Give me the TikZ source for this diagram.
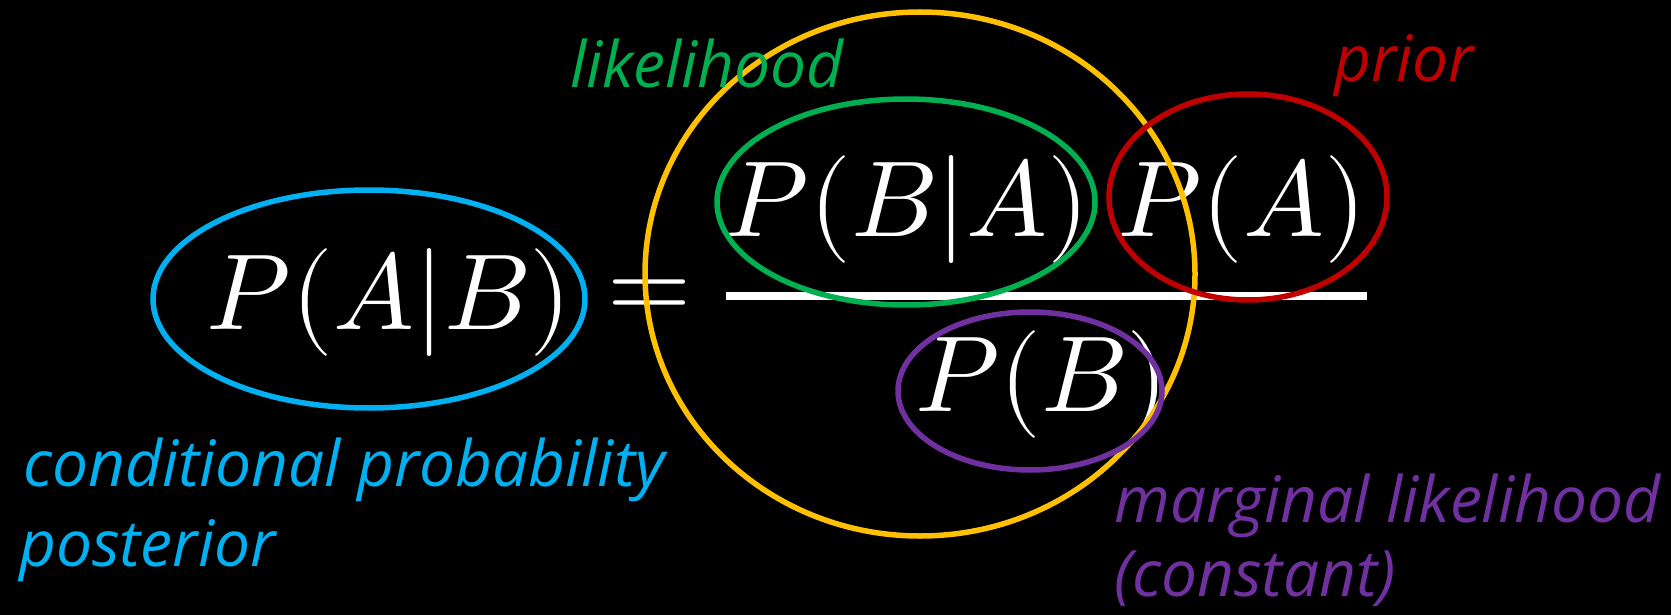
\documentclass[tikz,border=0pt]{standalone}
\usepackage{fontspec}
\usepackage{unicode-math}
\setmathfont{Latin Modern Math}
\usepackage{tikz}
\usepackage{xcolor}
\usetikzlibrary{shapes.geometric}
\newfontfamily\handfont{Open Sans}
\definecolor{postblue}{RGB}{0,176,240}
\definecolor{likegreen}{RGB}{0,176,80}
\definecolor{priorred}{RGB}{192,0,0}
\definecolor{margpurple}{RGB}{112,48,160}
\definecolor{evidyellow}{RGB}{255,192,0}
\tikzset{
    term/.style={text=white, inner sep=0pt, font=\fontsize{108}{120}\selectfont},
    ring/.style={ellipse, draw, line width=5.5pt, inner sep=0pt},
    tag/.style={inner sep=0pt, anchor=base west, font=\fontsize{64}{70}\selectfont\handfont\itshape}
}
\begin{document}
\begin{tikzpicture}[x=1pt, y=-1pt]
    \fill[black] (0,0) rectangle (1671,615);
    \useasboundingbox (0,0) rectangle (1671,615);
    % terms of the formula
    \node[term] (post)  at (389,302) {$P(A|B)$};
    \node[term] (eq)    at (650,300) {$=$};
    \node[term] (like)  at (907,209) {$P(B|A)$};
    \node[term] (prior) at (1242,209) {$P(A)$};
    \node[term] (marg)  at (1042,384) {$P(B)$};
    \coordinate (barl) at (726,296);
    \coordinate (barr) at (1367,296);
    \draw[white, line width=8pt] (barl)--(barr);
    % rings
    \node[ring, draw=evidyellow, minimum width=550pt, minimum height=524pt] (rall)   at (920,274) {};
    \node[ring, draw=postblue,   minimum width=432pt, minimum height=218pt] (rpost)  at (369,299) {};
    \node[ring, draw=likegreen,  minimum width=378pt, minimum height=206pt] (rlike)  at (906,202) {};
    \node[ring, draw=priorred,   minimum width=278pt, minimum height=206pt] (rprior) at (1248,197) {};
    \node[ring, draw=margpurple, minimum width=264pt, minimum height=158pt] (rmarg)  at (1030,391) {};
    % labels
    \node[tag, text=likegreen]  (tlike)  at (570,88)   {likelihood};
    \node[tag, text=priorred]   (tprior) at (1334,82)  {prior};
    \node[tag, text=postblue]   (tcond)  at (23,486)   {conditional probability};
    \node[tag, text=postblue]   (tpost)  at (19,566)   {posterior};
    \node[tag, text=margpurple] (tmarg)  at (1114,522) {marginal likelihood};
    \node[tag, text=margpurple] (tconst) at (1114,596) {(constant)};
\end{tikzpicture}
\end{document}
